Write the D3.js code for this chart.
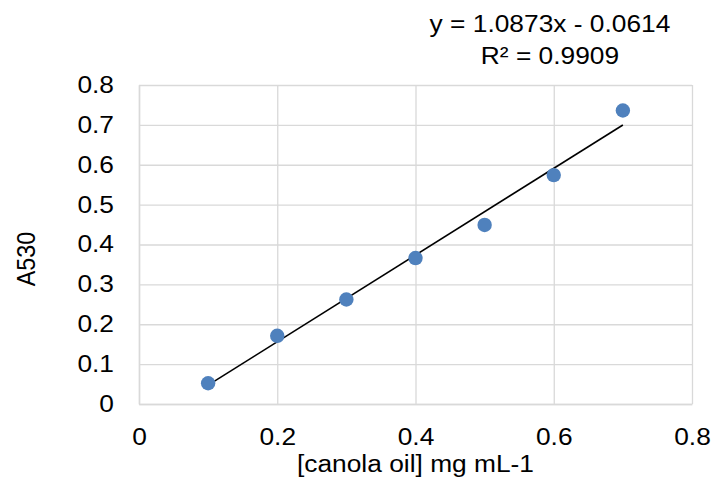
<!DOCTYPE html>
<html>
<head>
<meta charset="utf-8">
<script src="https://cdn.jsdelivr.net/npm/d3@7/dist/d3.min.js"></script>
<style>
  html, body { margin: 0; padding: 0; background: #fff; }
  svg { display: block; font-family: "Liberation Sans", Arial, sans-serif; }
</style>
</head>
<body>
<svg id="chart" width="716" height="494"></svg>
<script>
// Calibration data: canola oil concentration vs absorbance at 530 nm
const concentration = [0.1, 0.2, 0.3, 0.4, 0.5, 0.6, 0.7];
const absorbance = [0.052, 0.171, 0.262, 0.366, 0.449, 0.574, 0.736];
const xTicks = [0, 0.2, 0.4, 0.6, 0.8];
const yTicks = [0, 0.1, 0.2, 0.3, 0.4, 0.5, 0.6, 0.7, 0.8];
const fitSlope = 1.0873;
const fitIntercept = -0.0614;
const equationLines = ["y = 1.0873x - 0.0614", "R² = 0.9909"];
const xTitle = "[canola oil] mg mL-1";
const yTitle = "A530";

const svg = d3.select("#chart");
const plotLeft = 139, plotRight = 692, plotTop = 85, plotBottom = 404;

const x = d3.scaleLinear().domain([0, 0.8]).range([plotLeft, plotRight]);
const y = d3.scaleLinear().domain([0, 0.8]).range([plotBottom, plotTop]);

const grid = "#d9d9d9";
const fontSize = 23.3;
const widen = 1.13;   // text is drawn slightly wider than tall

// Widen a text element horizontally around its own x anchor
function widenText(sel) {
  sel.each(function () {
    const t = d3.select(this);
    const ax = +t.attr("x") || 0;
    t.attr("transform", `translate(${ax * (1 - widen)},0) scale(${widen},1)`);
  });
}

// Horizontal gridlines
svg.append("g")
  .attr("transform", `translate(${plotLeft},0)`)
  .call(d3.axisLeft(y).tickValues(yTicks).tickSize(-(plotRight - plotLeft)).tickFormat(""))
  .call(g => g.select(".domain").remove())
  .call(g => g.selectAll("line").attr("stroke", grid).attr("stroke-width", 1.3));

// Vertical gridlines
svg.append("g")
  .attr("transform", `translate(0,${plotBottom})`)
  .call(d3.axisBottom(x).tickValues(xTicks).tickSize(-(plotBottom - plotTop)).tickFormat(""))
  .call(g => g.select(".domain").remove())
  .call(g => g.selectAll("line").attr("stroke", grid).attr("stroke-width", 1.3));

// Y axis labels
svg.append("g")
  .attr("transform", `translate(${plotLeft},0)`)
  .call(d3.axisLeft(y).tickValues(yTicks).tickSize(0).tickPadding(25).tickFormat(d3.format("~g")))
  .call(g => g.select(".domain").attr("stroke", grid).attr("stroke-width", 1.5))
  .call(g => g.selectAll("text")
    .attr("fill", "#000").attr("font-size", fontSize)
    .attr("font-family", "Liberation Sans, Arial, sans-serif")
    .call(widenText));

// X axis labels
svg.append("g")
  .attr("transform", `translate(0,${plotBottom})`)
  .call(d3.axisBottom(x).tickValues(xTicks).tickSize(0).tickPadding(24).tickFormat(d3.format("~g")))
  .call(g => g.select(".domain").attr("stroke", grid).attr("stroke-width", 1.5))
  .call(g => g.selectAll("text")
    .attr("fill", "#000").attr("font-size", fontSize)
    .attr("font-family", "Liberation Sans, Arial, sans-serif")
    .call(widenText));

// Linear trendline
const xFit = d3.extent(concentration);
svg.append("line")
  .attr("x1", x(xFit[0])).attr("y1", y(fitSlope * xFit[0] + fitIntercept))
  .attr("x2", x(xFit[1])).attr("y2", y(fitSlope * xFit[1] + fitIntercept))
  .attr("stroke", "#000").attr("stroke-width", 1.6);

// Data points
svg.append("g")
  .selectAll("circle")
  .data(concentration.map((c, i) => [c, absorbance[i]]))
  .join("circle")
  .attr("cx", d => x(d[0]))
  .attr("cy", d => y(d[1]))
  .attr("r", 7.2)
  .attr("fill", "#4f81bd");

// Trendline equation
const eq = svg.append("text")
  .attr("x", 550)
  .attr("text-anchor", "middle")
  .attr("font-size", fontSize)
  .attr("fill", "#000");
equationLines.forEach((t, i) => {
  eq.append("tspan").attr("x", 550).attr("y", 32 + i * 32).text(t);
});
widenText(eq);

// Axis titles
svg.append("text")
  .attr("x", (plotLeft + plotRight) / 2).attr("y", 472)
  .attr("text-anchor", "middle")
  .attr("font-size", fontSize)
  .attr("fill", "#000")
  .text(xTitle)
  .call(widenText);

svg.append("text")
  .attr("transform", `translate(35,259) scale(${widen},1) rotate(-90)`)
  .attr("text-anchor", "middle")
  .attr("font-size", fontSize)
  .attr("fill", "#000")
  .text(yTitle);
</script>
</body>
</html>
